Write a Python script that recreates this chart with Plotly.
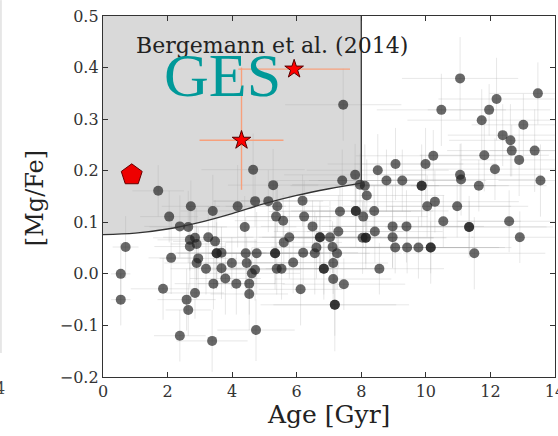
import plotly.graph_objects as go

# Field stars: age [Gyr] and [Mg/Fe] with symmetric uncertainties
ages = [0.55, 0.55, 0.70, 1.71, 1.86, 2.05, 2.11, 2.38, 2.38, 2.59,
        2.64, 2.64, 2.69, 2.72, 2.69, 2.85, 2.90, 2.85, 2.95, 2.90,
        3.19, 3.26, 3.40, 3.42, 3.38, 3.47, 3.52, 3.52, 3.67, 3.67,
        3.79, 3.99, 4.13, 4.17, 4.39, 4.42, 4.45, 4.53, 4.53, 4.61,
        4.71, 4.65, 4.71, 4.74, 4.76, 5.12, 5.27, 5.40, 5.33, 5.33,
        5.38, 5.53, 5.36, 5.58, 5.60, 5.77, 5.89, 6.12, 6.18, 6.20,
        6.23, 6.49, 6.61, 6.56, 6.72, 6.72, 6.84, 6.84, 7.03, 7.11,
        7.13, 7.25, 7.13, 7.18, 7.18, 7.29, 7.34, 7.41, 7.44, 7.46,
        7.81, 7.83, 7.83, 7.96, 8.11, 8.06, 8.04, 8.14, 8.14, 8.17,
        8.40, 8.42, 8.51, 8.56, 8.78, 8.97, 8.97, 9.06, 9.05, 9.27,
        9.40, 9.42, 9.77, 9.87, 9.87, 9.99, 10.23, 10.04, 10.15, 10.15,
        10.28, 10.48, 10.54, 10.97, 11.06, 11.06, 11.09, 11.34, 11.34, 11.50,
        11.64, 11.73, 11.81, 11.96, 12.14, 12.19, 12.38, 12.62, 12.66, 12.58,
        12.89, 12.91, 13.02, 13.37, 13.47, 13.55]

mgfe = [0.000, -0.050, 0.052, 0.161, -0.029, 0.111, 0.031, 0.092, -0.120, -0.050,
        -0.070, 0.091, 0.066, 0.131, 0.053, 0.070, 0.058, -0.037, 0.030, 0.021,
        0.010, 0.071, 0.122, -0.019, -0.130, 0.063, 0.040, 0.040, 0.041, 0.011,
        -0.009, 0.021, -0.019, 0.131, 0.091, 0.040, 0.021, -0.019, -0.039, 0.001,
        0.008, 0.202, 0.141, -0.109, 0.040, 0.141, 0.172, 0.131, 0.040, 0.040,
        0.010, 0.010, 0.111, 0.103, 0.061, 0.071, 0.022, -0.030, 0.142, 0.041,
        0.111, 0.092, 0.051, 0.040, 0.071, 0.071, 0.010, 0.010, 0.071, 0.052,
        0.021, 0.040, -0.010, -0.060, -0.060, 0.082, 0.121, 0.181, 0.328, -0.020,
        0.192, 0.122, 0.122, 0.173, 0.171, 0.111, 0.070, 0.070, 0.070, 0.152,
        0.122, 0.082, 0.201, 0.010, 0.181, 0.092, 0.071, 0.213, 0.051, 0.181,
        0.092, 0.051, 0.051, 0.171, 0.171, 0.213, 0.229, 0.131, 0.051, 0.051,
        0.140, 0.318, 0.102, 0.131, 0.379, 0.192, 0.183, 0.091, 0.091, 0.040,
        0.171, 0.298, 0.230, 0.318, 0.203, 0.339, 0.269, 0.259, 0.239, 0.102,
        0.221, 0.071, 0.289, 0.239, 0.350, 0.181]

age_err = [0.3, 0.3, 0.4, 0.8, 1.0, 0.9, 0.7, 1.1, 0.8, 0.9,
           0.7, 1.2, 1.0, 0.9, 1.1, 1.3, 0.8, 0.9, 1.2, 1.0,
           1.1, 1.4, 1.0, 1.2, 1.1, 1.3, 1.5, 1.2, 1.4, 1.0,
           1.1, 1.3, 1.2, 1.5, 1.6, 1.4, 1.3, 1.1, 1.2, 1.5,
           1.4, 1.6, 1.3, 1.2, 1.5, 1.7, 1.4, 1.6, 1.5, 1.8,
           1.4, 1.6, 1.7, 1.5, 1.8, 1.6, 1.4, 1.3, 1.9, 1.7,
           1.8, 1.6, 2.0, 1.7, 1.9, 1.5, 1.8, 1.6, 2.1, 1.9,
           1.7, 2.0, 1.8, 2.3, 1.9, 2.0, 2.2, 2.1, 1.8, 1.9,
           2.2, 2.4, 2.0, 2.1, 2.3, 2.0, 2.2, 2.5, 2.1, 2.4,
           2.3, 2.1, 2.2, 2.0, 2.4, 2.2, 2.5, 2.1, 2.3, 2.6,
           2.4, 2.2, 2.5, 2.3, 2.7, 2.2, 2.4, 2.6, 2.5, 2.3,
           2.6, 2.0, 2.4, 2.2, 1.8, 2.5, 2.3, 2.4, 2.6, 2.2,
           2.1, 2.3, 2.0, 1.9, 2.2, 1.8, 1.7, 1.9, 2.0, 1.6,
           1.8, 1.5, 1.6, 1.4, 1.5, 1.3]

mgfe_err = [0.06, 0.05, 0.06, 0.05, 0.06, 0.05, 0.07, 0.06, 0.05, 0.06,
            0.05, 0.07, 0.06, 0.05, 0.08, 0.06, 0.07, 0.05, 0.06, 0.07,
            0.05, 0.06, 0.07, 0.05, 0.06, 0.08, 0.06, 0.07, 0.05, 0.06,
            0.07, 0.05, 0.06, 0.08, 0.06, 0.07, 0.05, 0.06, 0.07, 0.05,
            0.06, 0.07, 0.05, 0.06, 0.08, 0.06, 0.07, 0.05, 0.06, 0.07,
            0.05, 0.06, 0.07, 0.05, 0.06, 0.08, 0.06, 0.07, 0.05, 0.06,
            0.07, 0.05, 0.06, 0.08, 0.06, 0.07, 0.05, 0.06, 0.07, 0.05,
            0.06, 0.07, 0.05, 0.09, 0.06, 0.07, 0.05, 0.06, 0.07, 0.05,
            0.06, 0.07, 0.05, 0.06, 0.08, 0.06, 0.07, 0.05, 0.06, 0.07,
            0.05, 0.06, 0.07, 0.05, 0.06, 0.08, 0.06, 0.07, 0.05, 0.06,
            0.07, 0.05, 0.06, 0.08, 0.06, 0.07, 0.05, 0.06, 0.07, 0.05,
            0.06, 0.07, 0.05, 0.06, 0.08, 0.06, 0.07, 0.05, 0.06, 0.07,
            0.05, 0.06, 0.07, 0.05, 0.06, 0.08, 0.06, 0.07, 0.05, 0.06,
            0.07, 0.05, 0.06, 0.08, 0.06, 0.07]

# Lower envelope of the Bergemann et al. (2014) region
envelope_age = [0, 1, 2, 3, 4, 5, 6, 7, 8]
envelope_mgfe = [0.076, 0.079, 0.087, 0.100, 0.117, 0.136, 0.152, 0.165, 0.176]

# GES stars (asymmetric [Mg/Fe] errors)
ges_age = [4.29, 5.92]
ges_mgfe = [0.259, 0.397]
ges_age_err = [1.30, 1.73]
ges_mgfe_err_plus = [0.141, 0.0]
ges_mgfe_err_minus = [0.096, 0.0]

# Reference object
ref_age = [0.89]
ref_mgfe = [0.192]

X_RANGE = [0, 14]
Y_RANGE = [-0.2, 0.5]
SERIF = "DejaVu Serif"

fig = go.Figure()

# shaded region
fig.add_trace(go.Scatter(
    x=envelope_age + [envelope_age[-1], envelope_age[0]],
    y=envelope_mgfe + [Y_RANGE[1], Y_RANGE[1]],
    fill="toself", fillcolor="#d9d9d9", line=dict(width=0),
    mode="lines", hoverinfo="skip", showlegend=False))

# field stars
fig.add_trace(go.Scatter(
    x=ages, y=mgfe, mode="markers",
    marker=dict(size=10, color="rgba(30,30,30,0.67)", line=dict(width=0)),
    error_x=dict(type="data", array=age_err, color="rgba(170,170,170,0.28)",
                 thickness=1, width=0),
    error_y=dict(type="data", array=mgfe_err, color="rgba(170,170,170,0.28)",
                 thickness=1, width=0),
    showlegend=False))

# region boundary
fig.add_trace(go.Scatter(
    x=envelope_age, y=envelope_mgfe, mode="lines",
    line=dict(color="#333333", width=1.3, shape="spline"),
    hoverinfo="skip", showlegend=False))
fig.add_trace(go.Scatter(
    x=[envelope_age[-1], envelope_age[-1]], y=[envelope_mgfe[-1], Y_RANGE[1]],
    mode="lines", line=dict(color="#333333", width=1.3),
    hoverinfo="skip", showlegend=False))

# GES stars
fig.add_trace(go.Scatter(
    x=ges_age, y=ges_mgfe, mode="markers",
    marker=dict(symbol="star", size=14, color="#ff0000",
                line=dict(color="#550000", width=1)),
    error_x=dict(type="data", array=ges_age_err, color="#f7a07c",
                 thickness=1.4, width=0),
    error_y=dict(type="data", array=ges_mgfe_err_plus,
                 arrayminus=ges_mgfe_err_minus, color="#f7a07c",
                 thickness=1.4, width=0),
    showlegend=False))

fig.add_trace(go.Scatter(
    x=ref_age, y=ref_mgfe, mode="markers",
    marker=dict(symbol="pentagon", size=22, color="#ee0000",
                line=dict(color="#660000", width=1)),
    showlegend=False))

axis_common = dict(
    showgrid=False, zeroline=False, showline=True, linecolor="#333333",
    linewidth=1.4, mirror="ticks", ticks="inside", ticklen=5,
    tickcolor="#333333", tickwidth=1, ticklabeloverflow="allow",
    automargin=False,
    tickfont=dict(family=SERIF, size=16, color="#333333"))

fig.update_xaxes(range=X_RANGE, tickvals=[0, 2, 4, 6, 8, 10, 12, 14],
                 **axis_common)
fig.update_yaxes(range=Y_RANGE, tickvals=[-0.2, -0.1, 0.0, 0.1, 0.2, 0.3, 0.4, 0.5],
                 tickformat=".1f", **axis_common)

annotations = [
    dict(text="Age [Gyr]", xref="paper", yref="paper", x=0.499, y=-0.103,
         xanchor="center", yanchor="middle", showarrow=False,
         font=dict(family=SERIF, size=25, color="#222222")),
    dict(text="[Mg/Fe]", xref="paper", yref="paper", x=-0.150, y=0.496,
         xanchor="center", yanchor="middle", textangle=-90, showarrow=False,
         font=dict(family=SERIF, size=24, color="#222222")),
    dict(text="Bergemann et al. (2014)", xref="x", yref="y", x=0.97, y=0.443,
         xanchor="left", yanchor="middle", showarrow=False,
         font=dict(family=SERIF, size=22, color="#222222")),
    dict(text="GES", xref="x", yref="y", x=1.84, y=0.385,
         xanchor="left", yanchor="middle", showarrow=False,
         font=dict(family="Liberation Serif", size=62, color="#009999")),
    dict(text="4", xref="paper", yref="paper", x=-0.212, y=-0.0305,
         xanchor="right", yanchor="middle", showarrow=False,
         font=dict(family=SERIF, size=16, color="#444444")),
]

fig.update_layout(
    width=558, height=436,
    margin=dict(l=103, r=3, t=16, b=59, autoexpand=False),
    paper_bgcolor="white", plot_bgcolor="white",
    annotations=annotations,
    shapes=[dict(type="line", xref="paper", yref="paper",
                 x0=-0.2257, x1=-0.2257, y0=0.0665, y1=1.044,
                 line=dict(color="#d0d0d0", width=1))],
)

fig.write_html("out.html")
